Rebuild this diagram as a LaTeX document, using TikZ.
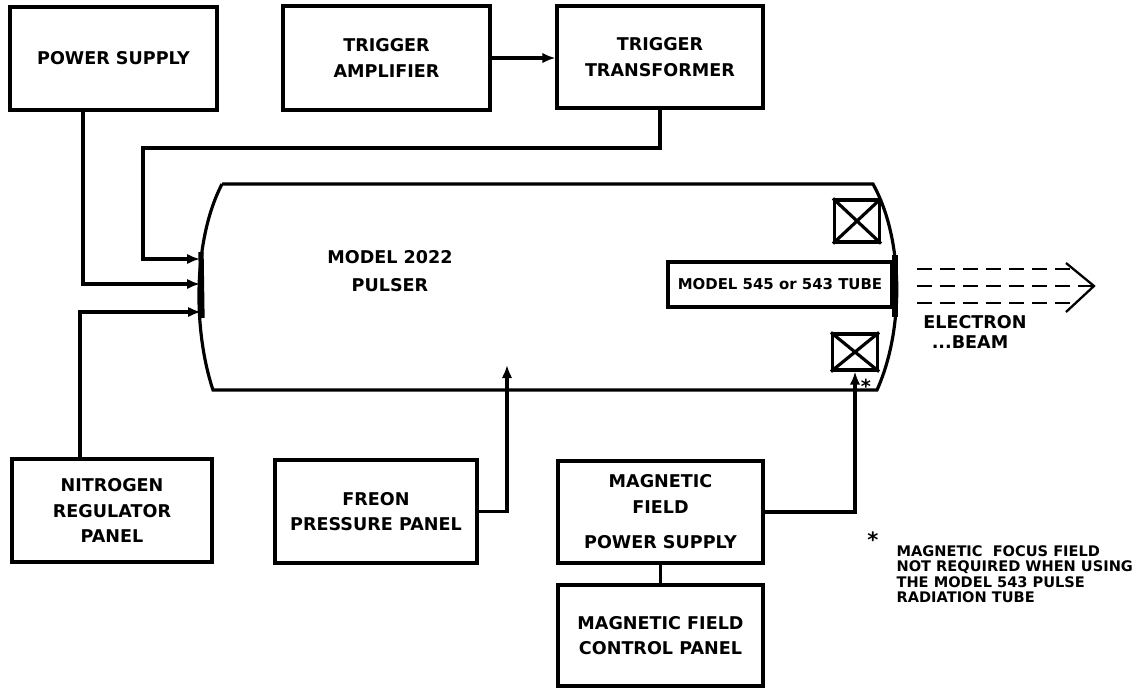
\documentclass[tikz,border=0pt]{standalone}
\usepackage{fontspec}
\setmainfont{DejaVu Sans}
\usetikzlibrary{arrows.meta}
\usetikzlibrary{calc}

\begin{document}
\begin{tikzpicture}[x=0.2mm, y=-0.2mm, line width=1.8pt,
    unit/.style={draw, rectangle, align=center, inner sep=0pt, font=\bfseries\fontsize{10}{14.5}\selectfont},
    label/.style={align=center, inner sep=0pt, font=\bfseries\fontsize{10}{15.5}\selectfont},
    feed/.style={-{Latex[length=2.6mm, width=2.1mm]}},
    coil/.style={draw, rectangle, minimum width=9mm, inner sep=0pt},
    beam/.style={line width=1.3pt, dash pattern=on 3mm off 1.6mm},
    note/.style={align=left, anchor=north west, inner sep=0pt, font=\bfseries\fontsize{8.3}{8.8}\selectfont}]
    \useasboundingbox (0,0) rectangle (1147,689);

    % units round the pulser
    \node [unit, minimum width=41.4mm, minimum height=20.6mm] (psu) at (113.5, 58.5) {POWER SUPPLY};
    \node [unit, minimum width=41.4mm, minimum height=20.8mm] (tamp) at (386.5, 58) {TRIGGER\\AMPLIFIER};
    \node [unit, minimum width=41.2mm, minimum height=20.4mm] (ttr) at (660, 57) {TRIGGER\\TRANSFORMER};
    \node [unit, minimum width=40mm, minimum height=20.6mm] (nit) at (112, 510.5) {NITROGEN\\REGULATOR\\PANEL};
    \node [unit, minimum width=40.4mm, minimum height=20.6mm] (freon) at (376, 511.5) {FREON\\PRESSURE PANEL};
    \node [unit, minimum width=41mm, minimum height=20.4mm] (mfps) at (660.5, 512) {MAGNETIC\\FIELD\\[2mm]POWER SUPPLY};
    \node [unit, minimum width=41mm, minimum height=20.2mm] (mfcp) at (660.5, 635.5) {MAGNETIC FIELD\\CONTROL PANEL};

    % pulser body
    \draw (222,184) -- (873,184) .. controls (904,240) and (904,330) .. (877,390)
        -- (213,390) .. controls (193,330) and (193,240) .. (222,184);
    \draw [line width=3pt] (201,252) -- (202,318);
    \draw [line width=3pt] (895,255) -- (895,317);
    \node [label] (pulser) at (390,271) {MODEL 2022\\PULSER};

    \node [draw, minimum width=44.8mm, minimum height=9mm, inner sep=0pt,
        font=\bfseries\fontsize{8.5}{10}\selectfont] (tube) at (780,284.5) {MODEL 545 or 543 TUBE};

    \node [coil, minimum height=8.4mm] (cup) at (857,221) {};
    \node [coil, minimum height=7.2mm] (clo) at (855,352) {};
    \draw (cup.north west) -- (cup.south east) (cup.north east) -- (cup.south west);
    \draw (clo.north west) -- (clo.south east) (clo.north east) -- (clo.south west);
    \node [inner sep=0pt, font=\bfseries\fontsize{11}{11}\selectfont] (star) at (866,386) {*};

    % inputs
    \coordinate (trin) at (200,259);
    \coordinate (psin) at (200,284);
    \coordinate (nin) at (201,312);
    \coordinate (frin) at (507,365);
    \coordinate (tbend) at (143,148);

    \draw [feed] (tamp.east) -- (tamp.east -| ttr.west);
    \draw [feed] (ttr.south) |- (tbend) |- (trin);
    \draw [feed] ([xshift=-6.1mm]psu.south) |- (psin);
    \draw [feed] ([xshift=-6.4mm]nit.north) |- (nin);
    \draw [feed] (freon.east) -| (frin);
    \draw [feed] (mfps.east) -| (clo.south);
    \draw (mfps.south) -- (mfcp.north);

    % electron beam
    \coordinate (tip) at (1094,286);
    \draw [beam] (917,269) -- (1072,269);
    \draw [beam] (917,286) -- (tip);
    \draw [beam] (917,303) -- (1072,303);
    \draw [line width=1.3pt] (1066,263) -- (tip) -- (1066,312);
    \node [label] (elec) at (975,322) {ELECTRON};
    \node [label] (beamlab) at (970,342) {...BEAM};

    % footnote
    \node [inner sep=0pt, font=\bfseries\fontsize{12}{12}\selectfont] (fstar) at (873,540) {*};
    \node [note] (fnote) at (895,544) {MAGNETIC~~FOCUS FIELD\\NOT REQUIRED WHEN USING\\THE MODEL 543 PULSE\\RADIATION TUBE};
\end{tikzpicture}
\end{document}
